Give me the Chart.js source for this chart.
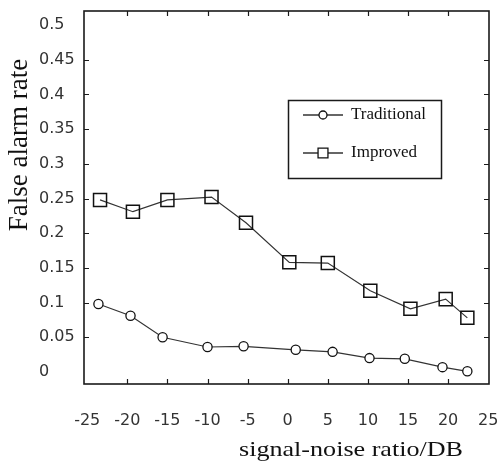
<!DOCTYPE html>
<html>
<head>
<meta charset="utf-8">
<script src="https://cdn.jsdelivr.net/npm/chart.js@4/dist/chart.umd.min.js"></script>
<style>
  html, body { margin: 0; padding: 0; background: #fff; }
  #chart { display: block; }
</style>
</head>
<body>
<canvas id="chart" width="500" height="464"></canvas>
<script>
// values
const traditionalX = [-23.6, -19.6, -15.6, -10.0, -5.5, 1.0, 5.6, 10.2, 14.6, 19.3, 22.4]
const traditionalY = [0.098, 0.081, 0.050, 0.036, 0.037, 0.032, 0.029, 0.020, 0.019, 0.007, 0.001]
const improvedX = [-23.4, -19.3, -15.0, -9.5, -5.2, 0.2, 5.0, 10.3, 15.3, 19.7, 22.4]
const improvedY = [0.248, 0.231, 0.248, 0.252, 0.215, 0.158, 0.157, 0.117, 0.091, 0.105, 0.078]
const seriesNames = ['Traditional', 'Improved']
const xTicks = [-25, -20, -15, -10, -5, 0, 5, 10, 15, 20, 25]
const yTicks = [0, 0.05, 0.1, 0.15, 0.2, 0.25, 0.3, 0.35, 0.4, 0.45, 0.5]
const xTitle = 'signal-noise ratio/DB'
const yTitle = 'False alarm rate'

const toPoints = (xs, ys) => xs.map((x, i) => ({x: x, y: ys[i]}))

// frame, inward tick marks, axis titles and legend box
const framePlugin = {
    id: 'frame',
    afterDraw(chart) {
        const ctx = chart.ctx
        const a = chart.chartArea
        const xs = chart.scales.x
        const ys = chart.scales.y
        ctx.save()
        ctx.strokeStyle = '#1a1a1a'
        ctx.lineWidth = 1.6
        ctx.strokeRect(a.left, a.top, a.right - a.left, a.bottom - a.top)

        ctx.lineWidth = 1.2
        ctx.beginPath()
        xTicks.slice(1, -1).forEach(v => {
            const px = Math.round(xs.getPixelForValue(v)) + 0.5
            ctx.moveTo(px, a.bottom); ctx.lineTo(px, a.bottom - 5)
            ctx.moveTo(px, a.top); ctx.lineTo(px, a.top + 5)
        })
        yTicks.slice(1, -1).forEach(v => {
            const py = Math.round(ys.getPixelForValue(v)) + 0.5
            ctx.moveTo(a.left, py); ctx.lineTo(a.left + 5, py)
            ctx.moveTo(a.right, py); ctx.lineTo(a.right - 5, py)
        })
        ctx.stroke()

        // axis titles
        ctx.fillStyle = '#111'
        ctx.font = '27px "Liberation Serif", "Times New Roman", serif'
        ctx.textAlign = 'center'
        ctx.textBaseline = 'middle'
        ctx.save()
        ctx.translate(20, 145)
        ctx.rotate(-Math.PI / 2)
        ctx.fillText(yTitle, 0, 0)
        ctx.restore()

        ctx.font = '21px "Liberation Serif", "Times New Roman", serif'
        ctx.save()
        ctx.translate(351, 450)
        ctx.scale(224 / ctx.measureText(xTitle).width, 1)
        ctx.fillText(xTitle, 0, 0)
        ctx.restore()

        // legend
        const box = {x: 288, y: 100, w: 153, h: 78}
        ctx.lineWidth = 1.5
        ctx.strokeStyle = '#1a1a1a'
        ctx.strokeRect(box.x + 0.5, box.y + 0.5, box.w, box.h)
        ctx.font = '17px "Liberation Serif", "Times New Roman", serif'
        ctx.textAlign = 'left'
        const rows = [115, 153]
        chart.data.datasets.forEach((ds, i) => {
            const y = rows[i]
            ctx.strokeStyle = ds.borderColor
            ctx.lineWidth = 1.3
            ctx.beginPath()
            ctx.moveTo(303, y); ctx.lineTo(343, y)
            ctx.stroke()
            ctx.fillStyle = '#fff'
            ctx.strokeStyle = ds.pointBorderColor
            ctx.lineWidth = 1.3
            Chart.helpers.drawPoint(ctx, {pointStyle: ds.pointStyle, radius: i === 0 ? 4 : 7, rotation: 0, borderWidth: 1.3}, 323, y)
            ctx.fillStyle = '#111'
            ctx.fillText(ds.label, 351, y)
        })
        ctx.restore()
    }
}

const chart = new Chart(document.querySelector('#chart'), {
    type: 'scatter',
    data: {
        datasets: [
            {
                label: seriesNames[0],
                data: toPoints(traditionalX, traditionalY),
                showLine: true,
                borderColor: '#333',
                borderWidth: 1.2,
                pointStyle: 'circle',
                pointRadius: 4.6,
                pointBackgroundColor: '#fff',
                pointBorderColor: '#111',
                pointBorderWidth: 1.3
            },
            {
                label: seriesNames[1],
                data: toPoints(improvedX, improvedY),
                showLine: true,
                borderColor: '#333',
                borderWidth: 1.2,
                pointStyle: 'rect',
                pointRadius: 9.2,
                pointBackgroundColor: 'rgba(255,255,255,0)',
                pointBorderColor: '#111',
                pointBorderWidth: 1.5
            }
        ]
    },
    options: {
        responsive: false,
        animation: false,
        devicePixelRatio: 1,
        layout: {padding: {left: 39, top: 11, right: 11, bottom: 0}},
        plugins: {legend: {display: false}, tooltip: {enabled: false}},
        scales: {
            x: {
                type: 'linear',
                min: -25.4,
                max: 25.1,
                afterFit: s => { s.height = 80; s.paddingLeft = 0; s.paddingRight = 0 },
                afterBuildTicks: s => { s.ticks = xTicks.map(v => ({value: v})) },
                grid: {display: false, drawTicks: false},
                border: {display: false},
                ticks: {
                    color: '#333',
                    font: {family: '"DejaVu Sans", sans-serif', size: 16},
                    padding: 27,
                    maxRotation: 0,
                    autoSkip: false
                }
            },
            y: {
                type: 'linear',
                min: -0.0173,
                max: 0.5202,
                afterFit: s => { s.width = 45; s.paddingTop = 0; s.paddingBottom = 0 },
                afterBuildTicks: s => { s.ticks = yTicks.map(v => ({value: v})) },
                grid: {display: false, drawTicks: false},
                border: {display: false},
                ticks: {
                    color: '#333',
                    crossAlign: 'far',
                    font: {family: '"DejaVu Sans", sans-serif', size: 16},
                    callback: v => String(+v.toFixed(2)),
                    autoSkip: false
                }
            }
        }
    },
    plugins: [framePlugin]
})
</script>
</body>
</html>
